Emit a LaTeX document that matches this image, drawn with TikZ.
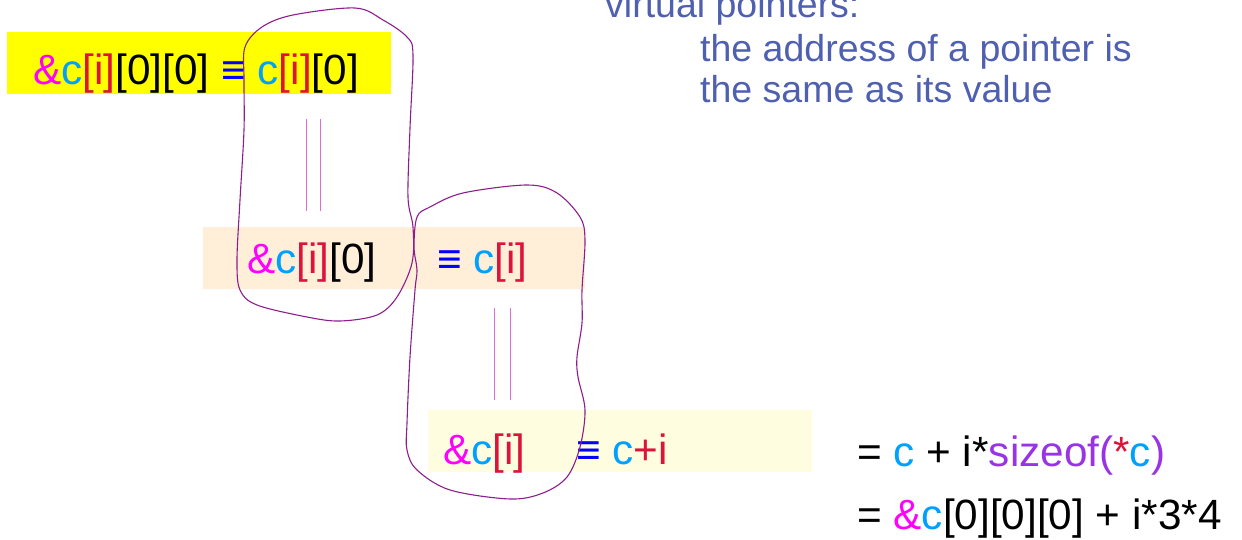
\documentclass[tikz,border=0pt]{standalone}
\usepackage{fontspec}
\setmainfont{Liberation Sans}
\definecolor{cmag}{RGB}{255,0,255}
\definecolor{ccyan}{RGB}{0,160,255}
\definecolor{cred}{RGB}{220,20,60}
\definecolor{cblue}{RGB}{0,0,255}
\definecolor{cpurp}{RGB}{153,51,230}
\definecolor{noteblue}{RGB}{80,96,176}
\definecolor{lassoc}{RGB}{140,30,140}
\definecolor{dline}{RGB}{218,112,214}
\definecolor{boxyellow}{RGB}{255,255,0}
\definecolor{boxpeach}{RGB}{255,238,216}
\definecolor{boxcream}{RGB}{255,253,224}
\newcommand{\pA}{{\color{cmag}\&}}
\newcommand{\pC}{{\color{ccyan}c}}
\newcommand{\pI}{{\color{cred}[i]}}
\newcommand{\pE}{{\color{cblue}≡}}
\begin{document}
\begin{tikzpicture}[x=1pt,y=-1pt,
  box/.style={draw=none, inner sep=0pt, anchor=north west, minimum height=62pt},
  eq/.style={inner sep=0pt, anchor=base west, font=\fontsize{42.3}{50}\selectfont},
  note/.style={inner sep=0pt, anchor=base west, text=noteblue, font=\fontsize{37.5}{44}\selectfont},
  lasso/.style={draw=lassoc, line width=1.1pt},
  dbl/.style={draw=dline, line width=0.9pt}]
\useasboundingbox (0,0) rectangle (1242,540);
% boxes
\node[box, fill=boxyellow, minimum width=384pt] (b1) at (7,32) {};
\node[box, fill=boxpeach, minimum width=382pt] (b2) at (203,227) {};
\node[box, fill=boxcream, minimum width=384pt] (b3) at (428,410) {};
% texts
\node[eq] (t1) at (33,85) {\pA\pC\pI[0][0] \pE\ \pC\pI[0]};
\node[eq] (t2a) at (247,273) {\pA\pC\pI[0]};
\node[eq] (t2b) at (437,273) {\pE\ \pC\pI};
\node[eq] (t3a) at (443,464) {\pA\pC\pI};
\node[eq] (t3b) at (576,464) {\pE\ \pC{\color{cred}+i}};
\node[eq] (r1) at (857,466) {= \pC\ + i*{\color{cpurp}sizeof(}{\color{cred}*}\pC{\color{cpurp})}};
\node[eq] (r2) at (857,529) {= \pA\pC[0][0][0] + i*3*4};
\node[note] (n1) at (605,18) {virtual pointers:};
\node[note] (n2) at (700,62) {the address of a pointer is};
\node[note] (n3) at (700,103) {the same as its value};
% double lines
\coordinate (d1a) at (306,119); \coordinate (d1b) at (306,211);
\coordinate (d2a) at (320,119); \coordinate (d2b) at (320,211);
\coordinate (d3a) at (494,308); \coordinate (d3b) at (494,400);
\coordinate (d4a) at (510,308); \coordinate (d4b) at (510,400);
\draw[dbl] (d1a) -- (d1b);
\draw[dbl] (d2a) -- (d2b);
\draw[dbl] (d3a) -- (d3b);
\draw[dbl] (d4a) -- (d4b);
% lassos
\draw[lasso] plot[smooth cycle, tension=0.55] coordinates {
 (245,47) (262,27) (293,15) (355,8) (383,20) (407,37) (413,55) (410,128) (408,197)
 (413,227) (412,263) (397,297) (377,315) (340,321) (307,317) (257,305) (240,290)
 (237,260) (240,200) (244,130) (244,80)};
\draw[lasso] plot[smooth cycle, tension=0.55] coordinates {
 (417,217) (430,207) (463,193) (527,185) (557,193) (580,217) (585,240) (582,290)
 (582,323) (577,357) (578,377) (585,410) (580,447) (567,477) (543,493) (510,499)
 (450,490) (417,470) (407,450) (407,423) (410,357) (415,290) (417,270) (414,247)};
\end{tikzpicture}
\end{document}
